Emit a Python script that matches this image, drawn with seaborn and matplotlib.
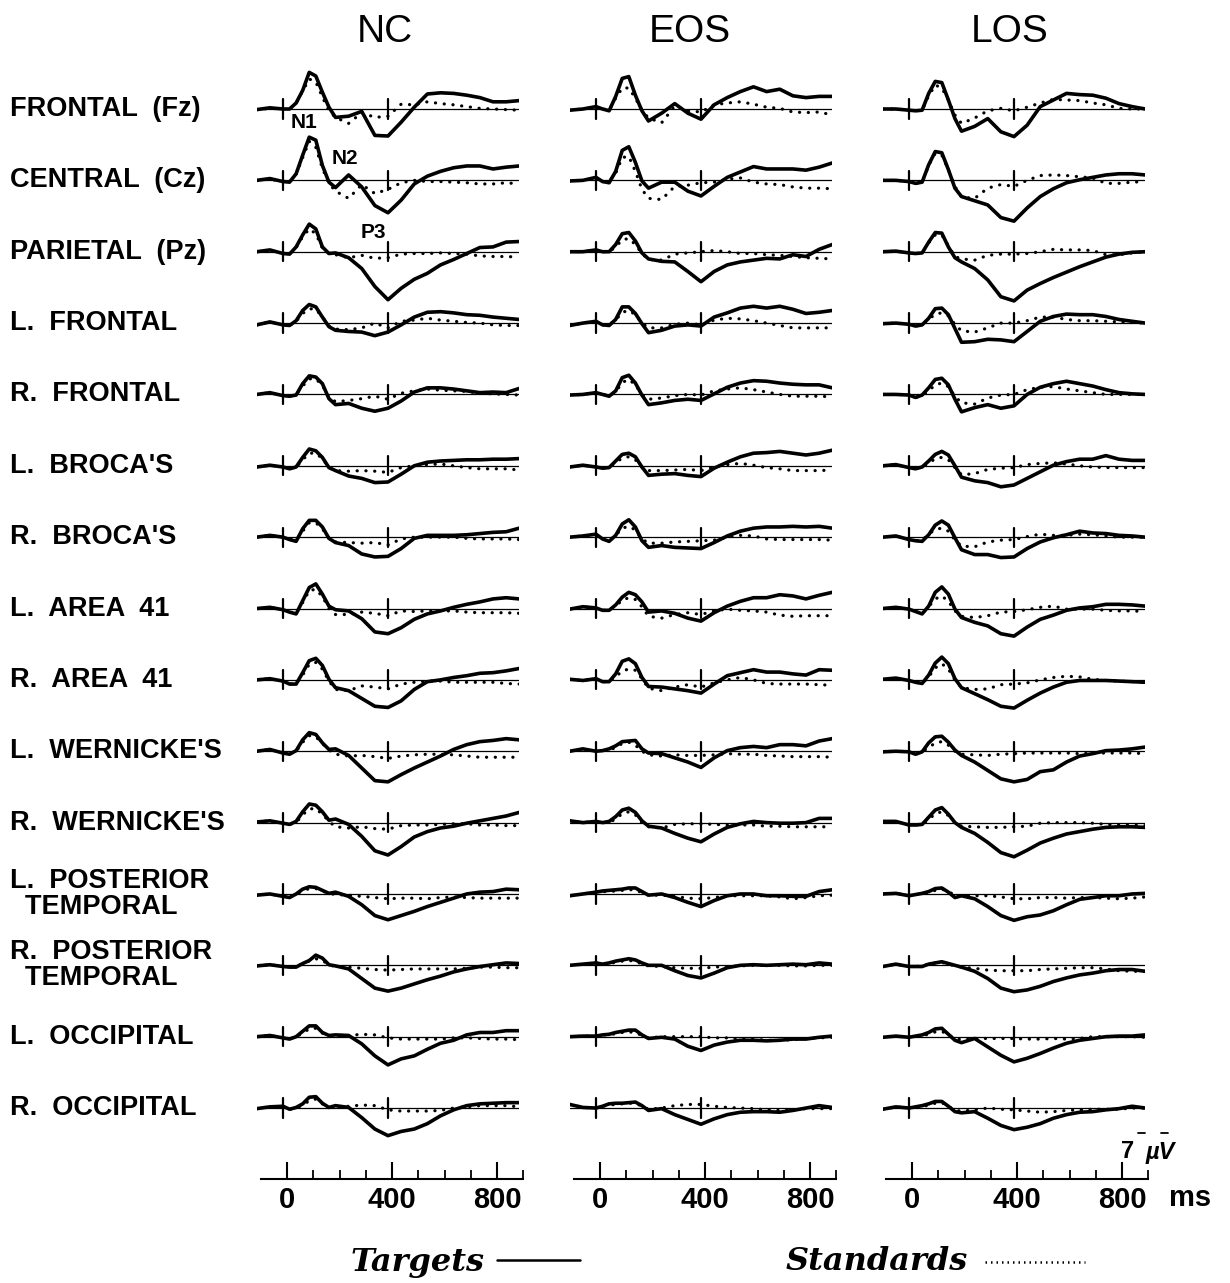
import numpy as np
import matplotlib
matplotlib.use("Agg")
import matplotlib.pyplot as plt
from matplotlib.lines import Line2D
import seaborn as sns

# sample times (ms)
times = [-100, -50, 0, 25, 50, 75, 100, 125, 150, 175, 200, 250, 300, 350,
         400, 450, 500, 550, 600, 650, 700, 750, 800, 850, 900]

groups = ["NC", "EOS", "LOS"]
row_labels = ["FRONTAL  (Fz)", "CENTRAL  (Cz)", "PARIETAL  (Pz)",
              "L.  FRONTAL", "R.  FRONTAL", "L.  BROCA'S", "R.  BROCA'S",
              "L.  AREA  41", "R.  AREA  41", "L.  WERNICKE'S", "R.  WERNICKE'S",
              "L.  POSTERIOR\n  TEMPORAL", "R.  POSTERIOR\n  TEMPORAL",
              "L.  OCCIPITAL", "R.  OCCIPITAL"]

# amplitudes in microvolts, negative plotted upward
nc_fz_tgt = [0.1,-0.2,0.0,0.0,-1.0,-3.1,-6.1,-5.5,-2.8,-0.3,1.4,1.2,0.4,4.4,4.5,2.2,-0.3,-2.5,-2.7,-2.6,-2.3,-1.9,-1.2,-1.2,-1.4]
nc_fz_std = [0.1,-0.1,0.0,0.0,-1.0,-3.0,-5.0,-4.5,-2.0,0.3,1.4,2.4,0.6,1.4,1.2,-0.8,-0.7,-1.2,-0.9,-0.7,-0.4,-0.1,0.0,0.1,0.2]
nc_cz_tgt = [0.0,-0.3,0.2,0.3,-1.1,-4.2,-7.2,-6.7,-2.5,0.3,1.2,-0.9,1.1,4.2,5.4,3.3,0.6,-0.7,-1.5,-2.1,-2.4,-2.4,-1.9,-2.2,-2.4]
nc_cz_std = [0.0,-0.2,0.2,0.3,-1.0,-3.8,-6.5,-5.5,-2.0,0.5,1.8,3.0,0.7,2.2,1.5,0.4,0.0,0.2,0.2,0.3,0.4,0.6,0.6,0.4,0.6]
nc_pz_tgt = [0.0,-0.3,0.3,0.4,-0.8,-2.8,-4.6,-3.8,-0.8,0.3,0.2,1.0,2.8,5.8,8.0,6.1,4.6,3.6,2.2,1.3,0.3,-0.7,-0.8,-1.6,-1.7]
nc_pz_std = [0.0,-0.2,0.3,0.4,-0.7,-2.5,-3.8,-3.0,-0.6,0.3,0.5,1.0,0.6,1.1,1.0,0.4,0.3,0.3,0.2,0.3,0.4,0.7,0.8,0.8,0.9]
nc_lf_tgt = [0.3,-0.2,0.3,0.4,-0.4,-2.1,-3.1,-2.7,-1.0,0.6,1.2,1.4,1.5,2.1,1.5,0.3,-1.0,-1.8,-1.9,-1.7,-1.4,-1.3,-1.0,-0.8,-0.6]
nc_lf_std = [0.3,-0.2,0.3,0.4,-0.3,-1.6,-2.4,-2.3,-1.0,0.5,1.0,1.1,0.8,0.0,0.8,-0.3,-0.5,-0.8,-0.5,-0.3,-0.1,0.0,0.3,0.4,0.4]
nc_rf_tgt = [0.0,-0.3,0.2,0.3,0.1,-1.8,-3.1,-2.9,-1.8,0.7,1.7,1.5,2.3,2.8,2.3,1.1,-0.4,-1.1,-1.1,-0.9,-0.6,-0.3,-0.4,-0.3,-1.0]
nc_rf_std = [0.0,-0.3,0.2,0.3,0.0,-1.4,-2.6,-2.6,-1.5,0.5,1.2,1.0,0.7,0.3,0.8,-0.2,-0.6,-0.9,-0.7,-0.6,-0.5,-0.2,-0.1,0.0,0.1]
nc_lb_tgt = [0.2,-0.1,0.2,0.5,0.2,-1.4,-2.8,-2.5,-1.4,0.3,0.8,1.7,2.1,2.8,2.7,1.4,0.0,-0.6,-0.8,-0.9,-1.0,-1.0,-1.1,-1.1,-1.2]
nc_lb_std = [0.2,-0.1,0.2,0.5,0.2,-1.0,-2.1,-2.1,-1.2,0.3,0.8,0.9,0.8,0.9,1.1,0.3,0.0,-0.2,-0.3,0.0,0.3,0.5,0.5,0.5,0.7]
nc_rb_tgt = [0.0,-0.3,0.0,0.4,0.7,-1.4,-2.8,-2.8,-1.7,0.2,0.9,1.4,2.8,3.3,3.2,1.9,0.2,-0.3,-0.3,-0.3,-0.4,-0.6,-0.8,-0.9,-1.5]
nc_rb_std = [0.0,-0.3,0.0,0.4,0.5,-1.0,-2.4,-2.4,-1.4,0.2,0.8,0.9,1.0,0.9,1.3,0.3,0.0,0.0,0.0,0.0,0.2,0.3,0.3,0.3,0.4]
nc_l41_tgt = [0.0,-0.2,0.2,0.6,0.9,-1.3,-3.5,-4.1,-2.4,-0.4,0.2,0.4,1.7,3.9,4.2,3.2,1.8,0.9,0.4,-0.2,-0.7,-1.1,-1.6,-1.8,-1.6]
nc_l41_std = [0.0,-0.2,0.2,0.6,0.8,-1.0,-3.0,-3.2,-2.0,0.0,1.0,1.0,0.6,0.8,1.2,0.4,0.5,0.4,0.4,0.4,0.6,0.7,0.7,0.7,0.8]
nc_r41_tgt = [0.0,-0.2,0.2,0.7,0.7,-1.2,-3.2,-3.6,-2.4,-0.1,1.3,1.8,3.1,4.4,4.6,3.5,1.6,0.3,0.0,-0.4,-0.7,-1.1,-1.2,-1.5,-1.9]
nc_r41_std = [0.0,-0.2,0.2,0.7,0.6,-0.8,-2.6,-2.9,-1.8,0.2,1.6,1.8,1.0,1.2,1.5,0.7,0.4,0.2,0.2,0.4,0.4,0.4,0.4,0.6,0.7]
nc_lw_tgt = [0.0,-0.3,0.3,0.5,-0.1,-1.9,-3.1,-2.8,-1.4,-0.3,-0.4,0.7,2.8,4.9,5.1,3.9,2.8,1.8,0.8,-0.3,-1.1,-1.6,-1.8,-2.1,-1.9]
nc_lw_std = [0.0,-0.3,0.3,0.5,0.0,-1.5,-2.6,-2.4,-1.3,-0.2,0.5,0.8,0.7,0.9,1.2,0.8,0.6,0.5,0.5,0.6,0.8,1.0,1.0,1.0,1.0]
nc_rw_tgt = [-0.1,-0.3,0.1,0.3,-0.2,-1.8,-3.1,-2.9,-1.8,-0.4,-0.6,0.3,2.3,4.7,5.4,4.0,2.4,1.5,0.9,0.6,0.1,-0.3,-0.7,-1.1,-1.7]
nc_rw_std = [-0.1,-0.3,0.1,0.3,0.0,-1.3,-2.3,-2.3,-1.4,-0.2,0.7,0.9,0.7,1.0,1.1,0.5,0.4,0.4,0.3,0.2,0.2,0.4,0.4,0.5,0.5]
nc_lpt_tgt = [0.2,0.0,0.4,0.6,0.0,-0.8,-1.2,-1.1,-0.6,-0.1,-0.3,0.4,1.8,3.6,4.3,3.6,2.9,2.1,1.4,0.7,0.0,-0.3,-0.4,-0.8,-0.7]
nc_lpt_std = [0.2,0.0,0.4,0.5,0.0,-0.5,-0.9,-0.9,-0.5,-0.1,0.1,0.2,0.4,0.6,0.8,0.7,0.7,0.8,0.6,0.5,0.6,0.7,0.7,0.7,0.7]
nc_rpt_tgt = [0.1,-0.1,0.2,0.3,0.3,-0.3,-0.8,-1.7,-1.2,-0.1,0.1,0.6,2.2,3.8,4.3,3.8,3.1,2.4,1.8,1.1,0.6,0.2,-0.1,-0.4,-0.3]
nc_rpt_std = [0.1,-0.1,0.2,0.3,0.2,-0.3,-0.7,-1.1,-0.8,-0.1,0.2,0.3,0.5,0.7,0.8,0.7,0.6,0.6,0.6,0.6,0.5,0.3,0.3,0.4,0.4]
nc_lo_tgt = [0.0,-0.2,0.2,0.4,0.0,-0.9,-1.8,-1.8,-0.7,-0.2,-0.3,-0.2,1.2,3.2,4.7,3.7,3.2,2.1,1.1,0.6,-0.3,-0.7,-0.7,-1.0,-1.0]
nc_lo_std = [0.0,-0.2,0.2,0.4,0.0,-0.6,-1.3,-1.4,-0.6,-0.1,0.0,-0.2,-0.4,-0.3,0.2,0.4,0.4,0.4,0.4,0.2,0.2,0.3,0.4,0.4,0.5]
nc_ro_tgt = [0.1,-0.2,-0.3,0.2,-0.1,-0.7,-1.8,-1.9,-0.8,-0.1,-0.4,-0.1,1.6,3.5,4.6,3.9,3.5,2.6,1.3,0.3,-0.4,-0.7,-0.8,-0.9,-0.9]
nc_ro_std = [0.1,-0.2,-0.3,0.2,0.0,-0.5,-1.2,-1.5,-0.7,-0.1,-0.1,-0.3,-0.5,-0.4,0.3,0.5,0.5,0.5,0.4,0.0,-0.2,-0.4,-0.4,-0.4,-0.2]

eos_fz_tgt = [0.2,0.0,-0.4,0.0,0.3,-2.1,-5.1,-5.4,-2.3,0.3,2.0,0.7,-0.9,0.7,1.7,-0.7,-1.9,-2.9,-3.7,-2.9,-3.3,-2.2,-1.9,-2.1,-2.1]
eos_fz_std = [0.2,0.0,-0.3,0.0,0.2,-1.8,-3.5,-3.5,-1.8,0.2,1.5,2.3,-0.5,0.3,0.5,-0.7,-1.0,-1.2,-0.8,-0.3,-0.1,0.5,0.6,0.5,1.0]
eos_cz_tgt = [0.1,0.0,-0.5,0.2,0.4,-1.5,-5.0,-5.6,-3.0,0.1,1.3,0.3,0.3,1.8,2.6,1.0,-0.5,-1.4,-2.3,-1.9,-1.9,-1.9,-1.7,-2.2,-2.9]
eos_cz_std = [0.1,0.0,-0.4,0.2,0.2,-1.2,-3.8,-4.0,-1.5,1.5,3.0,3.2,1.0,0.8,0.4,0.3,-0.2,-0.4,0.3,0.6,0.7,1.1,1.3,1.3,1.4]
eos_pz_tgt = [0.0,0.0,-0.3,0.0,0.0,-1.2,-3.0,-3.2,-1.8,0.2,1.2,1.6,1.7,3.3,5.0,3.3,2.2,1.7,1.4,1.1,1.2,0.5,0.8,-0.4,-1.2]
eos_pz_std = [0.0,0.0,-0.3,0.0,0.0,-0.8,-2.0,-2.2,-1.2,0.3,1.3,1.4,0.4,0.2,0.0,-0.2,0.0,0.3,0.3,0.5,0.6,0.8,1.0,1.1,1.2]
eos_lf_tgt = [0.4,0.0,-0.3,0.3,0.4,-0.6,-2.7,-2.7,-1.6,0.1,1.6,1.2,0.5,0.3,0.5,-1.0,-1.7,-2.5,-2.8,-2.5,-2.8,-2.3,-1.6,-1.8,-2.1]
eos_lf_std = [0.4,0.0,-0.3,0.3,0.3,-0.5,-1.8,-2.1,-1.4,0.0,0.8,0.8,0.2,0.0,0.3,-0.5,-0.8,-0.7,-0.4,0.0,0.4,0.8,0.8,0.8,0.8]
eos_rf_tgt = [0.1,0.0,-0.3,0.0,0.3,-0.6,-2.8,-3.2,-1.9,0.1,1.7,1.4,1.0,0.8,1.0,-0.1,-1.2,-1.9,-2.3,-2.2,-1.9,-1.7,-1.6,-1.6,-1.1]
eos_rf_std = [0.1,0.0,-0.3,0.0,0.2,-0.4,-2.0,-2.5,-1.6,0.0,0.8,0.6,0.2,0.0,0.1,-0.6,-0.9,-1.1,-0.8,-0.4,0.0,0.3,0.3,0.3,0.4]
eos_lb_tgt = [0.2,-0.1,0.2,0.4,0.3,-0.8,-1.9,-2.1,-1.5,0.2,1.6,1.4,1.3,1.6,1.8,0.4,-0.6,-1.5,-2.1,-2.2,-2.4,-2.1,-1.8,-2.1,-2.6]
eos_lb_std = [0.2,-0.1,0.2,0.4,0.2,-0.5,-1.3,-1.5,-1.0,0.2,0.8,0.8,0.7,0.6,0.8,0.2,-0.2,-0.4,-0.1,0.3,0.5,0.8,0.8,0.8,0.7]
eos_rb_tgt = [0.0,-0.2,-0.5,0.3,0.7,-0.3,-2.2,-2.9,-1.7,0.6,1.7,1.4,1.7,1.8,1.9,0.9,-0.2,-1.0,-1.5,-1.7,-1.7,-1.8,-1.7,-1.8,-1.5]
eos_rb_std = [0.0,-0.2,-0.4,0.3,0.5,-0.3,-1.5,-1.8,-1.2,0.3,1.0,1.0,0.8,0.7,0.6,0.5,0.0,-0.3,-0.2,0.3,0.4,0.4,0.4,0.4,0.5]
eos_l41_tgt = [0.1,-0.3,-0.1,0.3,0.3,-0.6,-1.9,-2.7,-2.3,-1.1,0.6,0.4,0.8,1.6,2.1,0.7,-0.4,-1.2,-1.8,-1.8,-2.3,-2.1,-1.6,-2.2,-2.7]
eos_l41_std = [0.1,-0.3,-0.1,0.3,0.3,-0.4,-1.4,-1.8,-1.5,-0.3,1.3,1.6,1.0,0.7,1.0,0.4,0.1,0.3,0.4,0.6,1.1,1.3,1.2,1.2,1.2]
eos_r41_tgt = [-0.1,0.1,-0.2,0.3,0.3,-1.0,-3.1,-3.5,-2.7,-0.4,1.1,1.2,1.5,1.8,2.2,0.7,-0.7,-1.2,-1.7,-1.3,-1.3,-1.0,-0.8,-1.7,-1.6]
eos_r41_std = [-0.1,0.1,-0.2,0.3,0.3,-0.5,-1.5,-1.8,-1.6,-0.2,1.4,1.8,1.2,0.8,1.2,0.5,0.0,-0.4,0.0,0.6,0.7,0.7,0.7,0.8,0.9]
eos_lw_tgt = [0.0,-0.4,0.0,-0.1,-0.4,-0.9,-1.6,-1.7,-1.8,-0.4,0.3,0.4,1.1,1.8,2.7,1.1,-0.1,-0.6,-0.8,-0.6,-1.1,-1.1,-0.9,-1.7,-2.1]
eos_lw_std = [0.0,-0.3,0.0,-0.1,-0.2,-0.6,-1.3,-1.5,-1.0,0.0,0.6,0.8,0.6,0.7,0.7,0.6,0.4,0.5,0.5,0.7,0.8,0.9,0.9,0.9,1.0]
eos_rw_tgt = [-0.3,0.0,-0.2,0.0,-0.2,-1.0,-2.1,-2.4,-1.7,-0.3,0.6,0.9,1.8,2.6,3.2,1.9,0.8,0.2,-0.2,0.0,0.1,0.1,0.0,-0.7,-0.7]
eos_rw_std = [-0.3,0.0,-0.2,0.0,0.0,-0.6,-1.5,-1.8,-1.3,0.0,0.7,0.9,0.3,0.2,0.2,0.3,0.4,0.4,0.4,0.6,0.6,0.7,0.7,0.7,0.7]
eos_lpt_tgt = [0.3,0.0,-0.3,-0.5,-0.6,-0.7,-0.8,-1.0,-1.0,-0.4,0.2,0.0,0.6,1.4,2.1,1.1,0.3,0.0,0.0,0.3,0.3,0.4,0.4,-0.4,-0.7]
eos_lpt_std = [0.3,0.0,-0.3,-0.4,-0.4,-0.5,-0.6,-0.7,-0.7,-0.2,0.2,0.2,0.4,0.7,0.8,0.6,0.3,0.3,0.3,0.3,0.5,0.8,0.6,0.3,0.2]
eos_rpt_tgt = [0.0,-0.2,-0.4,-0.2,-0.4,-0.7,-0.9,-1.1,-0.9,-0.4,0.0,0.0,0.9,1.7,2.1,1.3,0.4,0.0,-0.1,0.0,-0.1,-0.2,-0.1,-0.4,-0.2]
eos_rpt_std = [0.0,-0.2,-0.4,-0.2,-0.3,-0.5,-0.7,-0.8,-0.7,-0.2,0.1,0.2,0.4,0.5,0.5,0.3,0.2,0.1,0.0,0.0,0.0,0.1,0.1,0.0,0.0]
eos_lo_tgt = [0.0,-0.1,-0.1,-0.3,-0.4,-0.7,-0.9,-1.1,-1.1,-0.3,0.3,0.1,0.4,1.6,2.3,1.4,0.9,0.6,0.6,0.7,0.6,0.4,0.4,0.1,-0.1]
eos_lo_std = [0.0,-0.1,-0.1,-0.3,-0.3,-0.5,-0.7,-0.8,-0.7,-0.2,0.2,0.0,0.0,0.0,0.0,0.2,0.2,0.4,0.4,0.6,0.6,0.5,0.3,0.2,0.1]
eos_ro_tgt = [-0.6,-0.1,0.0,-0.3,-0.7,-0.8,-0.8,-0.9,-1.0,-0.4,0.4,0.1,1.1,1.9,2.7,1.8,1.1,0.7,0.6,0.6,0.7,0.4,0.0,-0.4,-0.1]
eos_ro_std = [-0.6,-0.1,0.0,-0.3,-0.5,-0.6,-0.7,-0.8,-0.8,-0.3,0.2,0.0,-0.4,-0.6,-0.6,-0.3,-0.1,0.0,0.1,0.3,0.4,0.3,0.1,0.1,0.1]

los_fz_tgt = [0.0,0.0,0.2,0.3,0.2,-2.6,-4.6,-4.4,-1.5,1.6,3.7,2.9,1.6,3.8,4.6,2.7,-0.4,-1.5,-2.6,-2.4,-2.3,-1.8,-0.9,-0.4,0.0]
los_fz_std = [0.0,0.0,0.2,0.3,0.2,-2.2,-4.0,-3.5,-1.5,1.0,2.4,1.5,0.3,-0.1,0.3,-0.3,-1.0,-1.6,-1.5,-1.4,-1.0,-0.7,-0.1,0.0,0.0]
los_cz_tgt = [0.0,0.0,0.2,0.5,0.3,-2.6,-4.8,-4.6,-1.8,1.3,2.7,3.4,4.1,6.2,6.8,4.6,2.7,1.4,0.4,-0.1,-0.5,-0.9,-1.1,-1.1,-0.9]
los_cz_std = [0.0,0.0,0.2,0.5,0.3,-2.5,-4.5,-4.2,-1.8,1.0,2.8,3.0,1.3,0.7,1.0,0.0,-0.8,-0.9,-0.8,-0.6,-0.4,0.5,0.5,0.3,0.2]
los_pz_tgt = [0.0,-0.1,0.2,0.3,0.2,-1.6,-3.2,-3.1,-0.8,1.0,1.7,2.8,4.7,7.5,8.2,6.4,5.3,4.3,3.4,2.5,1.7,0.9,0.4,0.1,0.0]
los_pz_std = [0.0,-0.1,0.2,0.3,0.2,-1.5,-2.8,-2.8,-1.0,0.8,1.2,1.4,0.6,0.4,0.4,0.3,0.0,-0.4,-0.3,-0.3,-0.2,0.5,0.5,0.2,0.0]
los_lf_tgt = [0.1,0.0,0.2,0.5,0.3,-0.8,-2.4,-2.5,-1.4,0.9,3.2,3.1,2.7,2.8,3.1,1.4,-0.3,-1.1,-1.5,-1.4,-1.4,-1.1,-0.6,-0.3,0.0]
los_lf_std = [0.1,0.0,0.2,0.5,0.3,-0.6,-1.5,-1.7,-1.2,0.2,1.3,1.5,0.8,0.0,0.0,-0.4,-1.0,-1.0,-0.6,-0.4,-0.4,-0.3,-0.2,-0.1,0.0]
los_rf_tgt = [0.0,0.0,0.1,0.5,0.1,-1.1,-2.5,-2.7,-1.6,0.8,2.9,2.2,1.7,2.3,1.9,0.0,-1.2,-1.8,-2.2,-1.8,-1.4,-0.8,-0.3,-0.1,0.0]
los_rf_std = [0.0,0.0,0.1,0.5,0.2,-0.6,-1.6,-1.9,-1.3,0.3,1.4,1.6,0.6,0.1,0.0,-0.8,-1.2,-1.3,-0.9,-0.6,-0.3,0.0,0.0,0.0,0.0]
los_lb_tgt = [0.0,-0.2,0.3,0.5,0.2,-0.8,-1.9,-2.4,-1.8,0.0,1.9,2.5,2.8,3.5,3.2,2.1,1.0,-0.1,-0.7,-1.1,-1.1,-1.7,-1.1,-0.9,-0.9]
los_lb_std = [0.0,-0.2,0.3,0.5,0.2,-0.4,-1.2,-1.4,-1.0,0.3,1.5,1.3,0.6,0.4,0.3,-0.2,-0.4,-0.5,-0.3,0.0,0.2,0.3,0.3,0.3,0.3]
los_rb_tgt = [0.0,-0.2,0.4,0.6,0.7,-0.4,-2.0,-2.7,-2.0,0.1,2.1,2.9,2.9,3.4,3.3,1.9,0.8,0.1,-0.4,-1.0,-0.7,-0.6,-0.3,-0.2,0.0]
los_rb_std = [0.0,-0.2,0.4,0.6,0.5,-0.5,-1.3,-1.5,-1.0,0.5,1.5,1.6,0.8,0.5,0.4,-0.1,-0.5,-0.3,-0.3,-0.5,-0.4,-0.2,0.0,0.0,0.0]
los_l41_tgt = [0.0,-0.2,0.1,0.5,0.9,-0.4,-2.7,-3.6,-2.4,0.1,1.5,2.3,2.9,4.2,4.6,3.1,1.8,1.1,0.3,-0.1,-0.3,-0.7,-0.7,-0.6,-0.4]
los_l41_std = [0.0,-0.2,0.1,0.5,0.8,-0.3,-1.6,-2.1,-1.2,0.4,1.3,1.5,1.2,0.6,0.5,0.2,-0.2,-0.4,0.1,0.1,0.1,0.3,0.4,0.4,0.5]
los_r41_tgt = [-0.1,-0.3,0.1,0.4,0.6,-0.8,-2.8,-3.8,-2.7,-0.2,1.3,2.3,3.3,4.4,4.7,3.4,2.2,1.2,0.4,0.1,0.1,0.1,0.2,0.3,0.4]
los_r41_std = [-0.1,-0.3,0.1,0.4,0.6,-0.5,-2.0,-2.7,-1.8,0.0,1.3,1.6,1.5,0.8,0.7,0.5,0.0,-0.4,-0.6,-0.5,-0.1,0.1,0.2,0.3,0.4]
los_lw_tgt = [0.1,0.0,0.1,0.5,0.1,-1.4,-2.4,-2.5,-1.5,-0.2,0.7,1.8,3.2,4.6,5.1,4.7,3.4,3.1,1.8,0.8,0.4,-0.1,-0.2,-0.4,-0.7]
los_lw_std = [0.1,0.0,0.1,0.5,0.1,-0.6,-1.4,-1.6,-1.0,0.0,0.5,0.6,0.7,0.5,0.4,0.3,0.3,0.3,0.3,0.4,0.3,0.3,0.3,0.3,0.4]
los_rw_tgt = [-0.2,-0.2,0.4,0.4,0.3,-0.9,-2.1,-2.5,-1.4,0.0,0.8,1.8,3.3,5.0,5.7,4.6,3.4,2.6,1.9,1.5,1.1,0.8,0.7,0.7,0.8]
los_rw_std = [-0.2,-0.2,0.4,0.4,0.3,-0.5,-1.5,-1.8,-1.2,0.0,0.6,0.7,0.8,0.8,0.7,0.6,0.1,0.0,0.0,0.0,0.1,0.3,0.4,0.4,0.5]
los_lpt_tgt = [0.0,-0.1,0.3,0.1,-0.1,-0.4,-0.9,-1.0,-0.3,0.6,0.3,0.8,2.1,3.6,4.4,3.8,3.5,2.8,1.8,0.9,0.6,0.3,0.3,0.0,-0.1]
los_lpt_std = [0.0,-0.1,0.3,0.1,0.0,-0.2,-0.6,-0.8,-0.4,0.2,0.3,0.3,0.3,0.5,0.8,0.8,0.6,0.6,0.7,0.6,0.6,0.7,0.8,0.7,0.5]
los_rpt_tgt = [0.2,-0.2,0.2,0.2,0.2,-0.2,-0.4,-0.6,-0.3,0.0,0.3,1.0,2.2,3.8,4.4,4.1,3.5,2.7,2.1,1.6,1.3,0.9,0.7,0.7,1.0]
los_rpt_std = [0.2,-0.2,0.2,0.2,0.1,-0.2,-0.4,-0.5,-0.2,0.1,0.3,0.5,0.8,0.9,0.9,0.9,0.7,0.6,0.5,0.4,0.4,0.6,0.9,1.0,1.0]
los_lo_tgt = [0.1,-0.1,0.1,-0.1,-0.3,-0.7,-1.3,-1.4,-0.4,0.6,1.0,0.3,1.7,3.1,4.2,3.6,2.8,1.9,1.1,0.6,0.3,0.0,-0.1,-0.1,-0.3]
los_lo_std = [0.1,-0.1,0.1,-0.1,-0.2,-0.4,-0.8,-0.9,-0.3,0.3,0.5,0.3,0.3,0.3,0.3,0.4,0.4,0.3,0.4,0.3,0.0,0.0,0.0,0.0,0.1]
los_ro_tgt = [0.2,-0.2,0.0,-0.2,-0.4,-0.7,-1.1,-1.1,-0.3,0.6,0.8,0.6,1.7,2.9,3.6,3.2,2.6,1.7,1.1,0.7,0.6,0.3,0.1,-0.3,0.0]
los_ro_std = [0.2,-0.2,0.0,-0.2,-0.2,-0.5,-0.8,-0.9,-0.3,0.4,0.5,0.3,0.0,0.2,0.3,0.5,0.7,0.6,0.4,0.3,0.2,0.2,0.2,0.0,0.0]

waves = {
    "NC": [(nc_fz_tgt, nc_fz_std), (nc_cz_tgt, nc_cz_std), (nc_pz_tgt, nc_pz_std),
           (nc_lf_tgt, nc_lf_std), (nc_rf_tgt, nc_rf_std), (nc_lb_tgt, nc_lb_std),
           (nc_rb_tgt, nc_rb_std), (nc_l41_tgt, nc_l41_std), (nc_r41_tgt, nc_r41_std),
           (nc_lw_tgt, nc_lw_std), (nc_rw_tgt, nc_rw_std), (nc_lpt_tgt, nc_lpt_std),
           (nc_rpt_tgt, nc_rpt_std), (nc_lo_tgt, nc_lo_std), (nc_ro_tgt, nc_ro_std)],
    "EOS": [(eos_fz_tgt, eos_fz_std), (eos_cz_tgt, eos_cz_std), (eos_pz_tgt, eos_pz_std),
            (eos_lf_tgt, eos_lf_std), (eos_rf_tgt, eos_rf_std), (eos_lb_tgt, eos_lb_std),
            (eos_rb_tgt, eos_rb_std), (eos_l41_tgt, eos_l41_std), (eos_r41_tgt, eos_r41_std),
            (eos_lw_tgt, eos_lw_std), (eos_rw_tgt, eos_rw_std), (eos_lpt_tgt, eos_lpt_std),
            (eos_rpt_tgt, eos_rpt_std), (eos_lo_tgt, eos_lo_std), (eos_ro_tgt, eos_ro_std)],
    "LOS": [(los_fz_tgt, los_fz_std), (los_cz_tgt, los_cz_std), (los_pz_tgt, los_pz_std),
            (los_lf_tgt, los_lf_std), (los_rf_tgt, los_rf_std), (los_lb_tgt, los_lb_std),
            (los_rb_tgt, los_rb_std), (los_l41_tgt, los_l41_std), (los_r41_tgt, los_r41_std),
            (los_lw_tgt, los_lw_std), (los_rw_tgt, los_rw_std), (los_lpt_tgt, los_lpt_std),
            (los_rpt_tgt, los_rpt_std), (los_lo_tgt, los_lo_std), (los_ro_tgt, los_ro_std)],
}

sns.set_theme(style="white")
plt.rcParams['font.family'] = ['Liberation Sans', 'DejaVu Sans']
plt.rcParams['text.color'] = 'black'
plt.rcParams['xtick.color'] = 'black'
plt.rcParams['xtick.labelcolor'] = 'black'

W, H = 1230, 1283
fig = plt.figure(figsize=(W / 100, H / 100), dpi=100)
fig.patch.set_facecolor("white")

def fx(x):
    return x / W

def fy(y):
    return 1 - y / H

PX_MS = 0.2625          # pixels per ms
PX_UV = 6.0             # pixels per microvolt
ROW_Y0, ROW_DY = 109, 71.36
TOP, BOT = 40, 1150
wave_zero = {"NC": 283, "EOS": 596, "LOS": 909}
axis_zero = {"NC": 287, "EOS": 600, "LOS": 912}
title_x = {"NC": 385, "EOS": 690, "LOS": 1010}
step = ROW_DY / PX_UV

for g in groups:
    x0 = wave_zero[g] - 100 * PX_MS
    ax = fig.add_axes([fx(x0), fy(BOT), 1000 * PX_MS / W, (BOT - TOP) / H])
    for i, (tgt, std) in enumerate(waves[g]):
        off = i * step
        ax.plot([-100, 900], [off, off], color="black", lw=0.9)
        for tk in (0, 400):
            ax.plot([tk, tk], [off - 1.6, off + 1.6], color="black", lw=1.6)
        sns.lineplot(x=times, y=np.array(std) + off, ax=ax, color="black",
                     lw=2.3, linestyle=(0, (0.05, 2.7)), dash_capstyle="round",
                     estimator=None, errorbar=None)
        sns.lineplot(x=times, y=np.array(tgt) + off, ax=ax, color="black",
                     lw=2.6, solid_joinstyle="round", solid_capstyle="round",
                     estimator=None, errorbar=None)
    ax.set_xlim(-100, 900)
    ax.set_ylim((BOT - ROW_Y0) / PX_UV, (TOP - ROW_Y0) / PX_UV)
    ax.axis("off")

    # time scale
    z = axis_zero[g]
    tax = fig.add_axes([fx(z - 100 * PX_MS), fy(1179), 1000 * PX_MS / W, 20 / H])
    tax.set_xlim(-100, 900)
    tax.set_ylim(0, 1)
    tax.patch.set_alpha(0)
    for s in ("top", "left", "right"):
        tax.spines[s].set_visible(False)
    tax.spines["bottom"].set_linewidth(1.5)
    tax.spines["bottom"].set_color("black")
    tax.set_yticks([])
    tax.set_xticks([0, 400, 800])
    tax.set_xticklabels(["0", "400", "800"], fontsize=21, fontweight="bold", color="black")
    tax.set_xticks([100, 200, 300, 500, 600, 700, 900], minor=True)
    tax.tick_params(axis="x", which="major", direction="in", length=12.5,
                    width=1.5, pad=5, colors="black", bottom=True)
    tax.tick_params(axis="x", which="minor", direction="in", length=6.5,
                    width=1.3, bottom=True, colors="black")

    fig.text(fx(title_x[g]), fy(32), g, fontsize=28, ha="center", va="center", color="black")

for i, lab in enumerate(row_labels):
    fig.text(fx(10), fy(ROW_Y0 + i * ROW_DY), lab, fontsize=19.5, fontweight="bold",
             ha="left", va="center", linespacing=1.0, color="black")

# component labels
for s, x, y in [("N1", 304, 123), ("N2", 345, 159), ("P3", 373, 233)]:
    fig.text(fx(x), fy(y), s, fontsize=15, fontweight="bold", ha="center", va="center",
             color="black")

fig.text(fx(1190), fy(1198), "ms", fontsize=21, fontweight="bold", ha="center", va="center",
         color="black")

# calibration
fig.text(fx(1128), fy(1152), "7", fontsize=17, fontweight="bold", ha="center", va="center",
         color="black")
fig.text(fx(1160), fy(1152), "\u00b5V", fontsize=17, fontweight="bold", style="italic",
         ha="center", va="center", color="black")
for xa, xb in [(1138, 1145), (1161, 1168)]:
    fig.add_artist(Line2D([fx(xa), fx(xb)], [fy(1133), fy(1133)], color="black", lw=1.3))

# legend
fig.text(fx(418), fy(1262), "Targets", fontsize=23, fontweight="bold", style="italic",
         family="DejaVu Serif", ha="center", va="center", color="black")
fig.add_artist(Line2D([fx(497), fx(580)], [fy(1260), fy(1260)], color="black", lw=1.8))
fig.text(fx(877), fy(1262), "Standards", fontsize=23, fontweight="bold", style="italic",
         family="DejaVu Serif", ha="center", va="center", color="black")
fig.add_artist(Line2D([fx(985), fx(1085)], [fy(1262), fy(1262)], color="black", lw=1.8,
                      linestyle=(0, (0.6, 1.6))))

fig.savefig("out.png", dpi=100, facecolor="white")
